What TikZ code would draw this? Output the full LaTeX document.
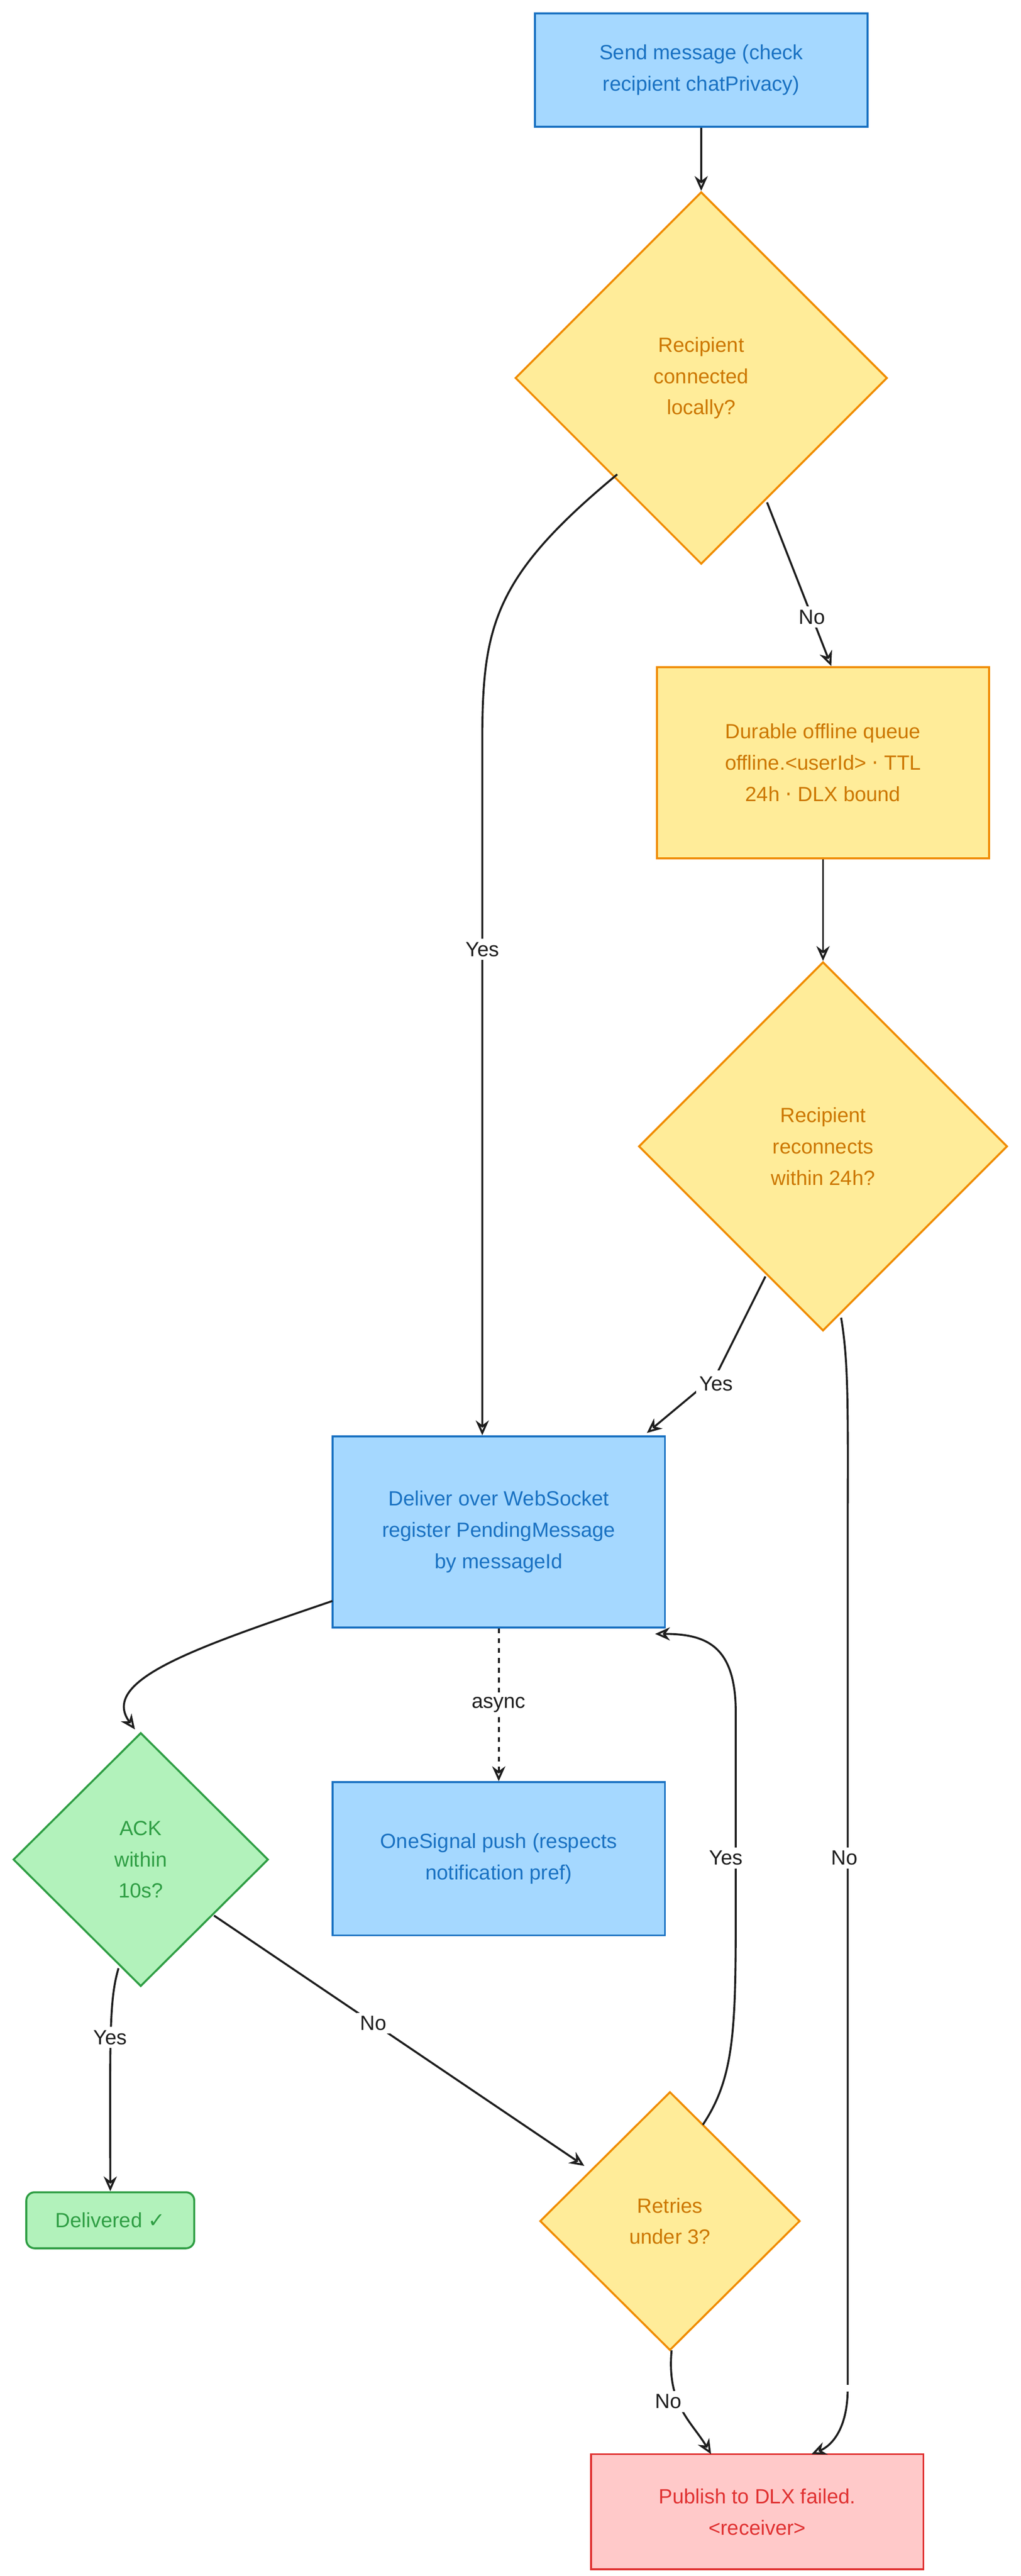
\documentclass[tikz,border=0pt]{standalone}
\usepackage{fontspec}
\setmainfont{Liberation Sans}
\newfontfamily\symf{DejaVu Sans}
\usetikzlibrary{shapes.geometric,arrows.meta}
\definecolor{bfill}{HTML}{A5D8FF}\definecolor{bline}{HTML}{1971C2}
\definecolor{yfill}{HTML}{FFEC99}\definecolor{yline}{HTML}{F08C00}
\definecolor{gfill}{HTML}{B2F2BB}\definecolor{gline}{HTML}{2F9E44}
\definecolor{rfill}{HTML}{FFC9C9}\definecolor{rline}{HTML}{E03131}
\definecolor{ink}{HTML}{1E1E1E}
\begin{document}
\begin{tikzpicture}[x=1pt,y=-1pt,
  every node/.style={font=\fontsize{12.5}{19}\selectfont,align=center},
  bbox/.style={draw=bline,fill=bfill,text=bline,line width=1.2pt,minimum width=202pt},
  ybox/.style={draw=yline,fill=yfill,text=yline!85!black,line width=1.2pt,minimum width=202pt},
  ydia/.style={diamond,draw=yline,fill=yfill,text=yline!85!black,line width=1.2pt,inner sep=0pt},
  gdia/.style={diamond,draw=gline,fill=gfill,text=gline,line width=1.2pt,inner sep=0pt},
  con/.style={draw=ink,line width=1.2pt,-{Stealth[length=9pt,width=8pt,open]}},
  lab/.style={fill=white,text=ink,inner sep=2pt}]
\useasboundingbox (0,0) rectangle (620,1564);
\node[bbox,minimum height=69pt] (send) at (426,42.5) {Send message (check\\recipient chatPrivacy)};
\node[ydia,minimum width=226pt,minimum height=226pt] (d1) at (426,229.5) {Recipient\\connected\\locally?};
\node[ybox,minimum height=116pt] (queue) at (500,463) {Durable offline queue\\offline.<userId> {\symf·} TTL\\24h {\symf·} DLX bound};
\node[ydia,minimum width=224pt,minimum height=224pt] (d2) at (500,696) {Recipient\\reconnects\\within 24h?};
\node[bbox,minimum height=116pt] (deliver) at (303,930) {Deliver over WebSocket\\register PendingMessage\\by messageId};
\node[bbox,minimum height=93pt] (one) at (303,1128.5) {OneSignal push (respects\\notification pref)};
\node[gdia,minimum width=155pt,minimum height=154pt] (ack) at (85.5,1129) {ACK\\within\\10s?};
\node[draw=gline,fill=gfill,text=gline,line width=1.2pt,rounded corners=5pt,minimum width=102pt,minimum height=34pt] (done) at (67,1348) {Delivered {\symf ✓}};
\node[ydia,minimum width=158pt,minimum height=157pt] (ret) at (407,1348.5) {Retries\\under 3?};
\node[draw=rline,fill=rfill,text=rline,line width=1.2pt,minimum width=202pt,minimum height=70pt] (pub) at (460,1525) {Publish to DLX failed.\\<receiver>};

\draw[con] (send) -- (d1.north);
\draw[con] (375,288) .. controls (300,350) and (293,380) .. (293,450) -- (deliver.north -| 293,0) node[lab,pos=0.3] {Yes};
\draw[con] (466,305) -- (queue.north -| 505,0) node[lab,pos=0.7] {No};
\draw[con] (queue.south -| 500,0) -- (d2.north);
\draw[con] (465,775) -- (435,835) -- (393,870) node[lab,pos=0.05,anchor=south west] {};
\node[lab] at (435,840) {Yes};
\draw[con] (511,800) .. controls (516,830) and (515,860) .. (515,950) -- (515,1450) .. controls (515,1475) and (505,1485) .. (493,1490) node[lab,pos=0] {};
\node[lab] at (513,1128) {No};
\draw[con] (202,972) .. controls (120,1000) and (60,1020) .. (82,1050);
\draw[con,dashed] (deliver.south) -- (one.north) node[lab,midway] {async};
\draw[con] (72,1195) .. controls (66,1215) and (67,1240) .. (done.north -| 67,0);
\node[lab] at (67,1237) {Yes};
\draw[con] (130,1163) -- (355,1315) node[lab,pos=0.43] {No};
\draw[con] (427,1290) .. controls (447,1260) and (447,1230) .. (447,1150) -- (447,1040) .. controls (447,1000) and (430,992) .. (398,992);
\node[lab] at (441,1128) {Yes};
\draw[con] (408,1427) .. controls (405,1460) and (420,1470) .. (432,1490);
\node[lab] at (406,1458) {No};
\end{tikzpicture}
\end{document}
